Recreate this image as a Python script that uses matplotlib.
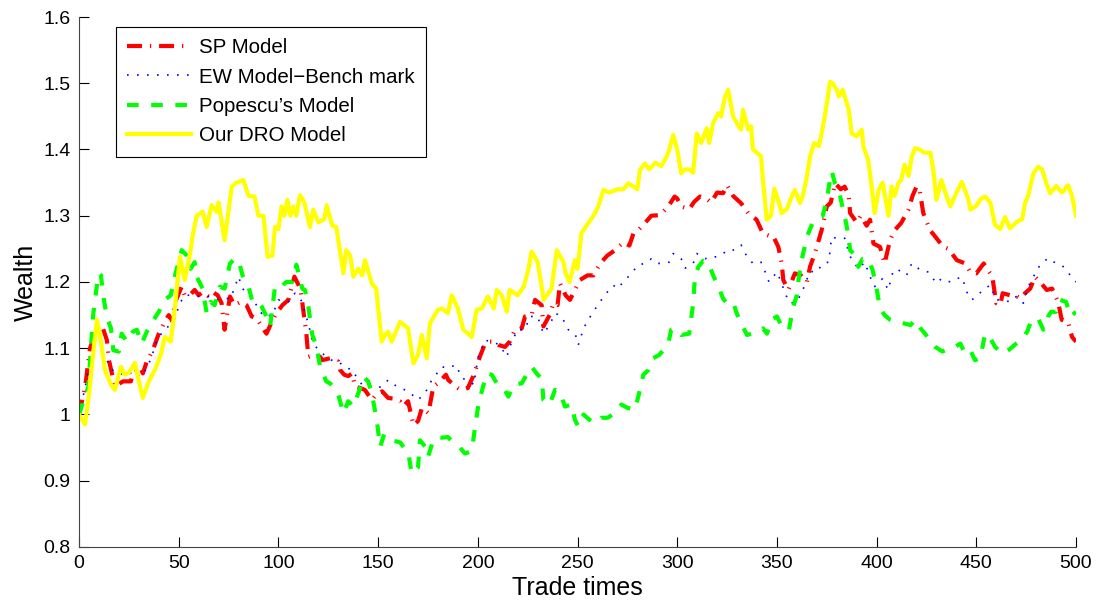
import matplotlib
matplotlib.use("Agg")
import matplotlib.pyplot as plt

plt.rcParams['font.family'] = ['Liberation Sans', 'DejaVu Sans']

# values (trade time, wealth)
sp_t = [0, 3, 5.5, 8, 10, 12, 14, 15, 18, 22, 26, 27, 31, 32, 34, 37, 40, 43, 45, 47, 48, 51.5, 53, 55.5, 58,
        60, 62, 65, 67, 69.5, 71.5, 73, 75.7, 78, 81, 84, 86.6, 89, 91.6, 94, 96.7, 99, 102, 105, 108, 111,
        112, 114, 115, 118, 121, 122, 126, 130, 131, 133, 135, 137, 138.4, 141, 143.4, 146.8, 149, 152, 155,
        157.6, 161, 162.6, 165, 167.7, 170, 172, 175.2, 177.7, 181, 184, 185.2, 190, 192, 195, 198, 201,
        203.6, 206, 208, 210.3, 213.6, 216, 218.7, 222, 223.7, 227, 228.7, 232, 232.9, 236, 237.9, 240,
        241.2, 244, 246.2, 249, 251.2, 255, 258, 261.3, 265, 268.8, 273, 276, 278, 281, 283.8, 287, 291.4,
        295.5, 298.7, 300, 302, 306, 308.5, 311.4, 315, 317, 320, 323, 325, 328, 332, 335.6, 339.8, 343,
        346, 348, 350.7, 352.4, 353.2, 355.7, 359, 362, 365, 366.6, 369, 372.4, 375, 377, 379.2, 382, 384,
        386, 386.7, 390, 392, 395, 396.7, 398.4, 401.7, 404, 406.7, 409, 412.3, 415.9, 418, 420, 421.5,
        423.4, 426.8, 429, 433.4, 436, 440.2, 444.4, 447, 450, 453.7, 458, 460, 462, 463.2, 467, 469.5,
        472, 474.4, 477, 479.4, 482, 485.3, 488, 491, 492.8, 496, 498, 500]
sp_w = [1.00, 1.04, 1.10, 1.12, 1.133, 1.13, 1.112, 1.082, 1.042, 1.05, 1.05, 1.062, 1.07, 1.062, 1.08, 1.097,
        1.122, 1.14, 1.15, 1.14, 1.168, 1.193, 1.18, 1.18, 1.188, 1.18, 1.185, 1.178, 1.185, 1.18, 1.168,
        1.128, 1.178, 1.165, 1.17, 1.165, 1.148, 1.145, 1.133, 1.122, 1.14, 1.153, 1.165, 1.173, 1.208,
        1.19, 1.168, 1.122, 1.087, 1.09, 1.087, 1.082, 1.085, 1.08, 1.067, 1.06, 1.058, 1.062, 1.042, 1.04,
        1.037, 1.022, 1.03, 1.035, 1.025, 1.024, 1.02, 1.012, 1.02, 0.984, 0.99, 1.01, 1.002, 1.042, 1.05,
        1.06, 1.052, 1.04, 1.037, 1.04, 1.06, 1.087, 1.107, 1.11, 1.11, 1.105, 1.102, 1.11, 1.128, 1.13,
        1.148, 1.15, 1.173, 1.165, 1.133, 1.15, 1.168, 1.165, 1.198, 1.18, 1.173, 1.19, 1.203, 1.21, 1.21,
        1.228, 1.24, 1.248, 1.26, 1.255, 1.273, 1.28, 1.289, 1.30, 1.301, 1.314, 1.329, 1.326, 1.314, 1.31,
        1.321, 1.329, 1.325, 1.32, 1.335, 1.334, 1.346, 1.33, 1.319, 1.304, 1.294, 1.273, 1.27, 1.27, 1.253,
        1.228, 1.203, 1.188, 1.213, 1.21, 1.20, 1.223, 1.243, 1.278, 1.314, 1.32, 1.349, 1.34, 1.344, 1.33,
        1.304, 1.29, 1.30, 1.285, 1.294, 1.258, 1.253, 1.228, 1.263, 1.278, 1.289, 1.309, 1.33, 1.344, 1.34,
        1.304, 1.278, 1.27, 1.253, 1.25, 1.233, 1.228, 1.215, 1.213, 1.228, 1.208, 1.168, 1.165, 1.183,
        1.18, 1.18, 1.175, 1.183, 1.19, 1.208, 1.20, 1.188, 1.19, 1.17, 1.143, 1.14, 1.117, 1.11]

ew_t = [0, 3, 5, 7, 9.7, 13, 15, 18, 24, 28, 30.6, 34, 36.4, 39, 42, 44.8, 48, 50.6, 53, 56, 60.7, 65, 69,
        72, 76, 80, 82, 86, 89, 92.5, 97, 100, 102.6, 105, 108.3, 112, 113.3, 115, 117, 120, 123, 126.7,
        130, 134, 137, 140, 142, 145, 149, 151.8, 155, 158, 161, 163.5, 167, 170, 173.5, 176.9, 179, 181.9,
        185, 189, 192, 196, 198, 200, 203.6, 207, 211, 214.5, 217, 220, 223.7, 226, 230, 232.9, 236, 238.7,
        242, 245.4, 249, 250.4, 253, 255.4, 259, 262, 265, 268, 270, 273, 277, 280.5, 284, 287, 290, 293,
        296, 298, 300, 302, 304, 308, 309.8, 314, 316, 320, 324, 327, 328, 332, 335, 338, 342, 344, 346,
        350, 352.4, 354, 356.6, 360, 363, 366.6, 370, 373, 376, 377.4, 381, 384, 386, 387.5, 391, 394,
        396.7, 399, 401, 403, 405.8, 408.4, 411, 415, 417.6, 422, 426, 430, 432.5, 437, 440, 443, 445,
        447.7, 450, 454, 457, 460, 463, 467, 470, 473.6, 476, 479, 482, 486, 489, 493, 496, 497.5, 500]
ew_w = [1.00, 1.04, 1.07, 1.09, 1.092, 1.09, 1.075, 1.062, 1.06, 1.065, 1.057, 1.07, 1.087, 1.112, 1.125,
        1.133, 1.145, 1.168, 1.18, 1.18, 1.178, 1.178, 1.173, 1.175, 1.175, 1.208, 1.19, 1.178, 1.165, 1.148,
        1.15, 1.173, 1.17, 1.17, 1.183, 1.17, 1.153, 1.138, 1.11, 1.097, 1.09, 1.082, 1.08, 1.07, 1.068,
        1.052, 1.045, 1.045, 1.04, 1.042, 1.052, 1.045, 1.04, 1.037, 1.03, 1.022, 1.032, 1.052, 1.06, 1.072,
        1.07, 1.075, 1.055, 1.05, 1.045, 1.085, 1.112, 1.11, 1.105, 1.087, 1.11, 1.128, 1.128, 1.148, 1.148,
        1.122, 1.135, 1.153, 1.148, 1.128, 1.12, 1.105, 1.13, 1.143, 1.16, 1.173, 1.185, 1.195, 1.19, 1.20,
        1.213, 1.226, 1.228, 1.235, 1.228, 1.228, 1.23, 1.243, 1.24, 1.235, 1.221, 1.228, 1.243, 1.235,
        1.238, 1.238, 1.245, 1.245, 1.248, 1.256, 1.238, 1.228, 1.23, 1.216, 1.20, 1.215, 1.198, 1.183,
        1.168, 1.17, 1.188, 1.216, 1.215, 1.228, 1.23, 1.268, 1.265, 1.266, 1.245, 1.233, 1.22, 1.23, 1.208,
        1.193, 1.20, 1.205, 1.188, 1.218, 1.218, 1.21, 1.228, 1.218, 1.215, 1.198, 1.205, 1.20, 1.205,
        1.207, 1.186, 1.173, 1.178, 1.19, 1.195, 1.173, 1.173, 1.17, 1.178, 1.168, 1.193, 1.21, 1.226,
        1.236, 1.23, 1.225, 1.215, 1.208, 1.20]

pop_t = [0, 1.3, 4.7, 7, 9.7, 11, 12.2, 13.9, 16, 17.2, 20, 21.4, 24, 27, 29, 31.4, 34, 36.4, 40, 43, 46, 48,
         51.5, 54, 56, 58, 59, 62, 64, 66, 68, 70.7, 73, 75.7, 78, 80, 82, 85, 87, 89.5, 91.6, 94, 95.8,
         98.3, 100, 104, 107, 109, 112, 113.3, 115, 117, 119.2, 120.9, 124, 125.9, 128, 130, 132.6, 135,
         137.6, 141, 142.6, 145, 146.8, 149.3, 151, 153, 156, 158, 161, 163, 165, 166.8, 170, 171, 174, 175,
         177, 179.4, 182, 185, 187.7, 191, 193.6, 197, 198.6, 200.3, 202, 204.4, 207, 209.5, 213, 215.3, 218,
         222, 224.5, 227, 230, 232, 232.9, 236, 238.7, 241, 243.7, 247, 248.7, 250.4, 253, 256, 258.8, 262,
         265, 268.8, 272, 275, 278.8, 281.3, 283, 285.5, 288, 291, 293, 295.5, 297, 299, 302, 306, 308, 308.9,
         310.6, 313, 315.5, 318, 320.6, 323, 324.8, 328, 329.8, 332, 335, 337.3, 340, 343, 345, 347.4, 350,
         352.4, 356, 358.2, 360, 360.8, 362.4, 365, 368, 370, 373, 375, 376.6, 377.5, 379, 381, 382, 384,
         385.7, 386.7, 389.5, 390.8, 393, 395.8, 398, 400, 401.7, 404, 406.7, 410, 413, 417, 419.3, 422,
         424.3, 427, 429.4, 433, 436.6, 439.3, 442, 444.3, 447, 449.3, 452, 454.4, 457, 459.4, 463, 466.5,
         470, 473.6, 475.5, 477.7, 481, 483.6, 486, 487.5, 490, 492, 495, 497.3, 500]
pop_w = [1.00, 1.012, 1.042, 1.148, 1.213, 1.21, 1.178, 1.148, 1.13, 1.097, 1.095, 1.122, 1.11, 1.125, 1.128,
         1.107, 1.125, 1.138, 1.155, 1.173, 1.18, 1.208, 1.248, 1.24, 1.22, 1.23, 1.208, 1.19, 1.153, 1.17,
         1.165, 1.193, 1.19, 1.228, 1.235, 1.233, 1.21, 1.193, 1.17, 1.17, 1.163, 1.148, 1.133, 1.193, 1.19,
         1.20, 1.20, 1.226, 1.19, 1.188, 1.163, 1.12, 1.102, 1.072, 1.05, 1.047, 1.04, 1.03, 1.002, 1.02,
         1.012, 1.04, 1.057, 1.05, 1.032, 0.992, 0.951, 0.97, 0.965, 0.96, 0.958, 0.95, 0.945, 0.911, 0.92,
         0.961, 0.95, 0.936, 0.955, 0.966, 0.965, 0.966, 0.957, 0.95, 0.941, 0.945, 0.981, 1.015, 1.035,
         1.062, 1.06, 1.047, 1.04, 1.027, 1.045, 1.047, 1.06, 1.072, 1.06, 1.055, 1.022, 1.015, 1.037, 1.035,
         1.012, 1.015, 0.992, 0.982, 1.00, 0.992, 0.987, 0.995, 0.995, 1.002, 1.015, 1.01, 1.007, 1.037,
         1.06, 1.067, 1.085, 1.09, 1.097, 1.107, 1.128, 1.13, 1.12, 1.122, 1.168, 1.208, 1.223, 1.232, 1.23,
         1.21, 1.193, 1.175, 1.168, 1.17, 1.153, 1.138, 1.12, 1.122, 1.125, 1.13, 1.122, 1.143, 1.148, 1.133,
         1.127, 1.163, 1.18, 1.203, 1.233, 1.268, 1.29, 1.296, 1.30, 1.324, 1.354, 1.367, 1.35, 1.34, 1.325,
         1.299, 1.273, 1.248, 1.24, 1.223, 1.235, 1.235, 1.218, 1.19, 1.16, 1.15, 1.143, 1.14, 1.138, 1.135,
         1.143, 1.13, 1.122, 1.11, 1.102, 1.095, 1.10, 1.102, 1.107, 1.092, 1.097, 1.082, 1.085, 1.122, 1.115,
         1.102, 1.092, 1.098, 1.107, 1.115, 1.125, 1.143, 1.145, 1.128, 1.148, 1.155, 1.155, 1.173, 1.17,
         1.148, 1.155]

dro_t = [0, 3, 5, 7, 9, 11, 13, 16, 18, 21, 23, 25, 28, 30, 32, 35, 38, 41, 43, 46, 48, 50.6, 53, 55.7, 57,
         59, 62, 64, 66.5, 69, 70, 73, 76.6, 79, 82.4, 85, 88, 90, 92.5, 94.6, 97, 98.3, 100, 101.6, 103,
         104.5, 106, 107.5, 109, 110.8, 113, 115.8, 117.5, 120, 123, 124.2, 127, 129, 132.6, 134, 136, 137.6,
         140, 142, 143.4, 146.8, 149, 151.8, 153.5, 155, 156.8, 161, 163, 165, 167.7, 170, 171.9, 174.4, 176,
         180, 182, 185, 186.9, 190, 192.7, 197, 199.4, 202, 205, 208, 209.5, 212, 214.5, 216, 220, 223,
         225.3, 227, 230, 232, 233, 237, 238, 239.6, 243, 244, 246, 248.7, 250, 252, 255.4, 258, 260.4, 263,
         266, 270, 273, 275.5, 280, 281.3, 283.8, 286, 289, 292, 294.7, 296, 298, 300, 302, 304, 306, 308,
         309.8, 312, 314.8, 316, 318, 320.6, 322, 324, 325.6, 328, 329.8, 332, 333, 335.6, 337, 338, 342,
         343, 344.9, 347, 348.7, 351, 352.4, 355, 357.4, 359, 361.6, 363, 365, 366.6, 368.7, 371, 372.4, 374,
         375.8, 376.6, 378, 380, 381, 383, 384, 386, 387.5, 390, 392.5, 393.4, 395.8, 397.5, 399, 401, 403,
         406, 407.5, 409, 411, 412.3, 414, 416, 417.6, 419.3, 421.6, 424, 427, 428.4, 430, 432.5, 435, 437,
         440, 442.7, 446, 447, 450, 452, 454.4, 457, 459.4, 462, 464.4, 466.9, 470, 473, 474.4, 476, 478.6,
         481, 483, 485, 487, 490, 493, 496, 498, 500]
dro_w = [1.00, 0.985, 1.03, 1.09, 1.143, 1.11, 1.067, 1.045, 1.037, 1.072, 1.06, 1.063, 1.078, 1.05, 1.025,
         1.05, 1.067, 1.09, 1.117, 1.11, 1.158, 1.238, 1.203, 1.243, 1.27, 1.30, 1.306, 1.283, 1.316, 1.306,
         1.32, 1.263, 1.344, 1.35, 1.354, 1.33, 1.329, 1.30, 1.30, 1.238, 1.24, 1.283, 1.28, 1.314, 1.30,
         1.324, 1.30, 1.314, 1.30, 1.331, 1.32, 1.283, 1.309, 1.29, 1.295, 1.316, 1.285, 1.283, 1.213, 1.248,
         1.24, 1.208, 1.22, 1.21, 1.233, 1.198, 1.19, 1.11, 1.12, 1.125, 1.11, 1.14, 1.135, 1.13, 1.077,
         1.09, 1.12, 1.085, 1.138, 1.158, 1.16, 1.153, 1.18, 1.16, 1.128, 1.117, 1.158, 1.16, 1.178, 1.16,
         1.188, 1.18, 1.155, 1.188, 1.18, 1.193, 1.218, 1.246, 1.23, 1.193, 1.173, 1.19, 1.213, 1.248, 1.23,
         1.213, 1.20, 1.233, 1.22, 1.274, 1.289, 1.30, 1.314, 1.339, 1.335, 1.34, 1.34, 1.349, 1.34, 1.369,
         1.379, 1.37, 1.38, 1.375, 1.389, 1.40, 1.422, 1.40, 1.364, 1.37, 1.37, 1.365, 1.424, 1.41, 1.432,
         1.41, 1.44, 1.455, 1.45, 1.48, 1.49, 1.45, 1.44, 1.43, 1.46, 1.43, 1.435, 1.40, 1.39, 1.354, 1.294,
         1.30, 1.341, 1.32, 1.304, 1.31, 1.329, 1.339, 1.319, 1.33, 1.359, 1.389, 1.41, 1.405, 1.424, 1.45,
         1.485, 1.502, 1.50, 1.49, 1.48, 1.49, 1.48, 1.46, 1.424, 1.42, 1.43, 1.404, 1.384, 1.344, 1.304,
         1.339, 1.35, 1.30, 1.344, 1.33, 1.35, 1.354, 1.377, 1.36, 1.389, 1.402, 1.40, 1.395, 1.395, 1.369,
         1.324, 1.354, 1.33, 1.314, 1.335, 1.351, 1.325, 1.309, 1.315, 1.325, 1.329, 1.32, 1.286, 1.28,
         1.298, 1.281, 1.29, 1.295, 1.319, 1.33, 1.364, 1.374, 1.37, 1.35, 1.334, 1.345, 1.335, 1.346, 1.33,
         1.30]

labels = ['SP Model', 'EW Model\u2212Bench mark', 'Popescu\u2019s Model', 'Our DRO Model']
yticks = [0.8, 0.9, 1.0, 1.1, 1.2, 1.3, 1.4, 1.5, 1.6]
ytick_labels = ['0.8', '0.9', '1', '1.1', '1.2', '1.3', '1.4', '1.5', '1.6']
xticks = list(range(0, 501, 50))

fig = plt.figure(figsize=(10.99, 6.03), dpi=100)
ax = fig.add_axes([0.0719, 0.0929, 0.9072, 0.8789])

ax.plot(sp_t, sp_w, color=(1, 0, 0), lw=3, linestyle=(0, (3.6, 1.9, 0.3, 1.9)), label=labels[0])
ax.plot(ew_t, ew_w, color=(0, 0, 1), lw=1.2, linestyle=(0, (1, 5)), label=labels[1])
ax.plot(pop_t, pop_w, color=(0, 1, 0), lw=3, linestyle=(0, (2.8, 3)), label=labels[2])
ax.plot(dro_t, dro_w, color=(1, 1, 0), lw=3, linestyle='-', label=labels[3])

ax.set_xlim(0, 500)
ax.set_ylim(0.8, 1.6)
ax.set_xticks(xticks)
ax.set_yticks(yticks)
ax.set_yticklabels(ytick_labels)
ax.tick_params(direction='in', length=7, width=0.8, labelsize=14, pad=6)
ax.spines['top'].set_visible(False)
ax.spines['right'].set_visible(False)
ax.spines['left'].set_color('#444444')
ax.spines['bottom'].set_color('#444444')

ax.set_xlabel('Trade times', fontsize=18, labelpad=3)
ax.set_ylabel('Wealth', fontsize=18, labelpad=4)

leg = ax.legend(loc='upper left', bbox_to_anchor=(0.037, 0.981), borderaxespad=0,
                fontsize=14.8, handlelength=3.1, handletextpad=0.4, labelspacing=0.5,
                fancybox=False, edgecolor='black', framealpha=1, borderpad=0.55)
leg.get_frame().set_linewidth(0.8)

fig.savefig('out.png', dpi=100)
